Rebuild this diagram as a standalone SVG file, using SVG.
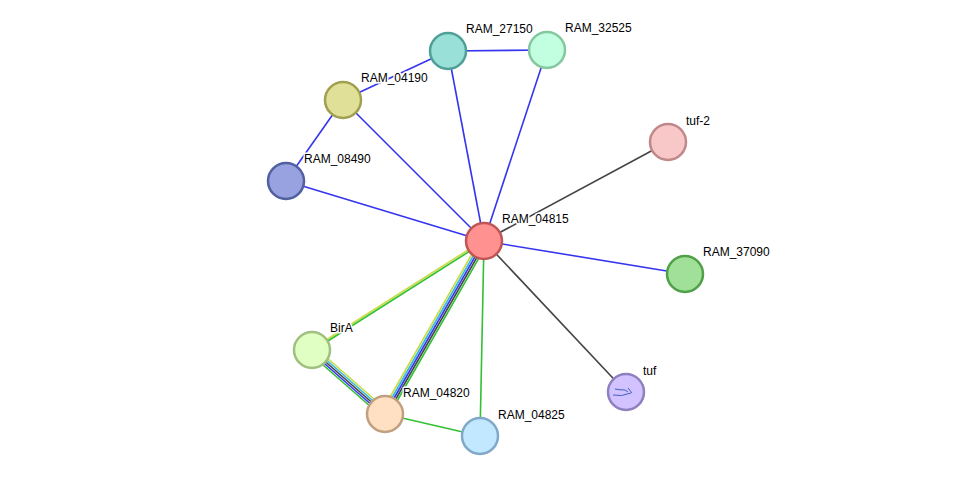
<svg xmlns="http://www.w3.org/2000/svg" width="975" height="482" viewBox="0 0 975 482">
<style>
.n{stroke-width:2.5}
.l{font-family:"Liberation Sans",Arial,sans-serif;font-size:12px;fill:#000;stroke:#fff;stroke-width:3;paint-order:stroke;stroke-linejoin:round}
#edges line{stroke-width:1.6}
.b{stroke:#3535f0}.k{stroke:#444}.g{stroke:#33c033}.y{stroke:#c8dc40}.c{stroke:#30b8e0}
</style>
<rect width="975" height="482" fill="#fff"/>
<g id="edges">
<line class="b" x1="484" y1="241" x2="448" y2="51"/>
<line class="b" x1="484" y1="241" x2="547" y2="50"/>
<line class="b" x1="484" y1="241" x2="343" y2="100"/>
<line class="b" x1="484" y1="241" x2="286" y2="181"/>
<line class="b" x1="484" y1="241" x2="685" y2="274"/>
<line class="b" x1="448" y1="51" x2="547" y2="50"/>
<line class="b" x1="343" y1="100" x2="448" y2="51"/>
<line class="b" x1="343" y1="100" x2="286" y2="181"/>
<line class="k" x1="484" y1="241" x2="668" y2="142"/>
<line class="k" x1="484" y1="241" x2="626" y2="392"/>
<line class="g" x1="484" y1="241" x2="480" y2="436"/>
<line class="g" x1="385" y1="414" x2="480" y2="436"/>
<line class="y" x1="483.5" y1="240.2" x2="311.5" y2="349.2"/>
<line class="g" x1="484.5" y1="241.8" x2="312.5" y2="350.8"/>
<line class="y" x1="480.5" y1="239" x2="381.5" y2="412"/>
<line class="c" x1="482.3" y1="240" x2="383.3" y2="413"/>
<line class="b" x1="484" y1="241" x2="385" y2="414"/>
<line class="k" x1="485.7" y1="242" x2="386.7" y2="415"/>
<line class="g" x1="487.5" y1="243" x2="388.5" y2="416"/>
<line class="y" x1="314.6" y1="347" x2="387.6" y2="411"/>
<line class="c" x1="313.3" y1="348.5" x2="386.3" y2="412.5"/>
<line class="k" x1="312" y1="350" x2="385" y2="414"/>
<line class="b" x1="310.7" y1="351.5" x2="383.7" y2="415.5"/>
<line class="g" x1="309.4" y1="353" x2="382.4" y2="417"/>
</g>
<g id="RAM_04815"><circle class="n" cx="484" cy="241" r="18" fill="#ff9191" stroke="#c05555"/><text class="l" x="502" y="223">RAM_04815</text></g>
<g id="RAM_27150"><circle class="n" cx="448" cy="51" r="18" fill="#99e0d8" stroke="#50a098"/><text class="l" x="466" y="33">RAM_27150</text></g>
<g id="RAM_32525"><circle class="n" cx="547" cy="50" r="18" fill="#c2ffe0" stroke="#85c8a0"/><text class="l" x="565" y="32">RAM_32525</text></g>
<g id="RAM_04190"><circle class="n" cx="343" cy="100" r="18" fill="#e0e098" stroke="#a0a050"/><text class="l" x="361" y="82">RAM_04190</text></g>
<g id="RAM_08490"><circle class="n" cx="286" cy="181" r="18" fill="#98a2e0" stroke="#5060a0"/><text class="l" x="304" y="163">RAM_08490</text></g>
<g id="tuf-2"><circle class="n" cx="668" cy="142" r="18" fill="#f8c8c8" stroke="#c08888"/><text class="l" x="686" y="125">tuf-2</text></g>
<g id="RAM_37090"><circle class="n" cx="685" cy="274" r="18" fill="#a0e098" stroke="#50a048"/><text class="l" x="703" y="256">RAM_37090</text></g>
<g id="tuf"><circle class="n" cx="626" cy="392" r="18" fill="#d2c2ff" stroke="#9080c0"/><path d="M615 389 q5 1 10 1 l3 2 M613 395 q8 2 18 -2 M628 388 l4 5" fill="none" stroke="#4060c0" stroke-width="1"/><text class="l" x="643" y="375">tuf</text></g>
<g id="BirA"><circle class="n" cx="312" cy="350" r="18" fill="#e0ffc2" stroke="#a0c080"/><text class="l" x="330" y="332">BirA</text></g>
<g id="RAM_04820"><circle class="n" cx="385" cy="414" r="18" fill="#ffe0c2" stroke="#c0a080"/><text class="l" x="403" y="397">RAM_04820</text></g>
<g id="RAM_04825"><circle class="n" cx="480" cy="436" r="18" fill="#c2e8ff" stroke="#80a8c8"/><text class="l" x="498" y="419">RAM_04825</text></g>
</svg>
